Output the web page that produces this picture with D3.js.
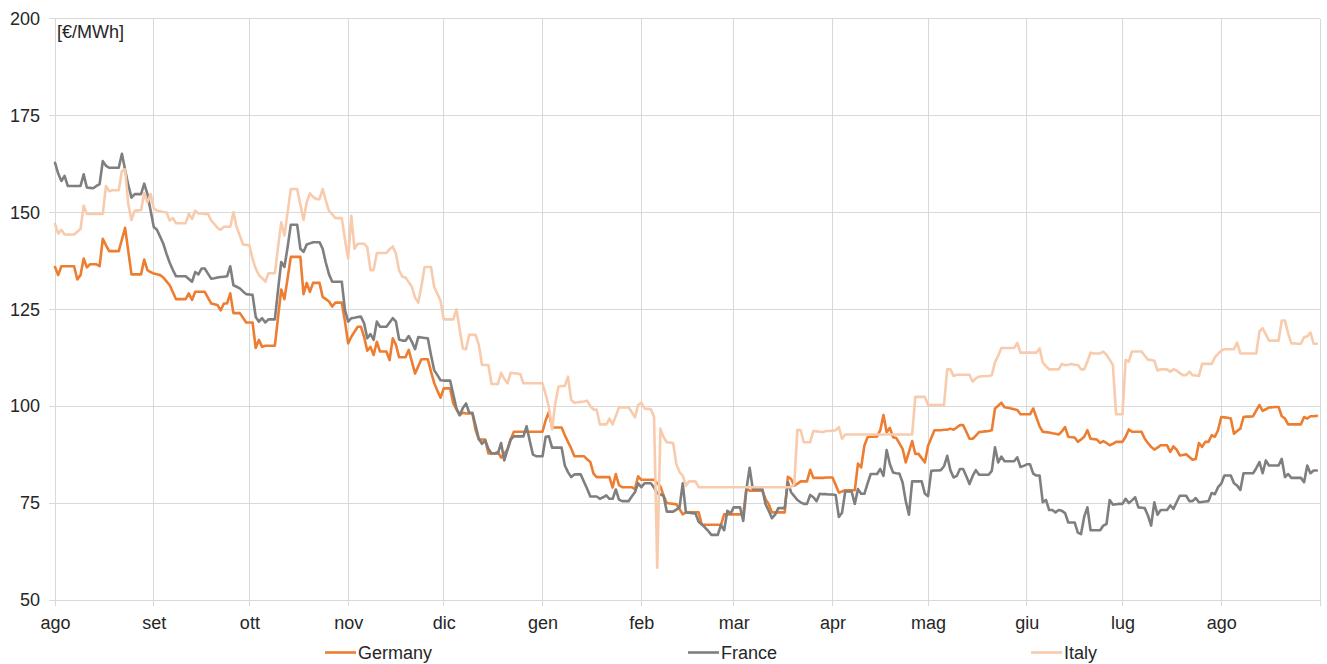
<!DOCTYPE html>
<html>
<head>
<meta charset="utf-8">
<script src="https://cdn.jsdelivr.net/npm/d3@7"></script>
<style>
  html, body { margin: 0; padding: 0; background: #ffffff; }
  svg { display: block; }
  text { font-family: "Liberation Sans", Arial, sans-serif; }
</style>
</head>
<body>
<svg id="chart" width="1327" height="664"></svg>
<script>
// Daily prices, one value per calendar day starting on the first day below
const firstDay = "2023-08-01";
const axisEnd = "2024-09-01";

const seriesNames = ["Germany", "France", "Italy"];
const seriesColors = ["#ED7D31", "#7F7F7F", "#F8CBAD"];

const germany = [
135.9,133.8,136.1,136.1,136.1,136.1,136.1,132.7,133.8,138.1,
135.8,136.6,136.6,136.6,136.1,143.2,141.5,140.0,140.0,140.0,
140.0,143.0,146.0,140.0,134.0,134.0,134.0,134.0,137.8,135.1,
134.6,134.2,134.0,133.8,133.2,132.2,131.2,129.4,127.6,127.6,
127.6,127.6,129.1,127.4,129.5,129.5,129.5,129.5,128.0,126.5,
126.3,126.1,124.7,126.5,126.5,129.1,124.0,124.0,124.0,122.8,
121.6,121.6,121.6,115.0,117.1,115.3,115.6,115.6,115.6,115.6,
122.9,130.1,127.6,133.0,138.5,138.5,138.5,138.5,128.9,131.8,
129.5,131.8,131.8,131.8,128.2,127.6,127.0,125.7,126.7,126.7,
126.7,121.8,116.2,117.9,119.2,120.5,120.5,117.9,114.3,115.3,
113.2,116.6,114.1,114.1,114.1,111.9,117.5,115.8,112.6,112.6,
112.6,114.5,111.5,108.4,110.3,112.1,112.1,112.1,108.9,106.0,
104.0,102.2,104.6,104.6,104.6,100.7,99.2,97.7,98.3,98.1,
98.1,98.1,93.8,91.4,91.4,91.4,87.8,87.8,87.8,88.2,
86.7,87.8,88.8,91.4,93.4,93.4,93.4,93.4,93.4,93.4,
93.4,93.4,93.4,93.4,96.4,98.5,94.5,94.5,94.5,94.5,
92.5,90.8,89.1,87.1,87.1,87.1,87.1,86.3,85.6,82.6,
81.7,81.7,81.7,81.7,81.7,79.0,82.5,79.6,79.1,79.1,
79.1,79.1,78.6,81.9,81.0,81.0,81.0,81.0,81.0,80.1,
79.3,76.9,75.0,74.9,74.8,74.7,73.5,72.1,72.6,72.6,
72.6,72.6,72.6,69.4,69.4,69.4,69.4,69.4,69.4,69.4,
72.1,72.1,72.1,72.1,72.1,72.1,72.1,78.9,78.2,78.2,
78.2,78.2,78.2,76.0,74.7,72.6,72.6,72.6,72.6,72.6,
81.8,81.2,79.5,80.0,80.6,80.6,80.6,83.6,81.5,81.5,
81.5,81.5,81.6,81.6,81.6,79.7,77.7,78.0,78.3,78.3,
78.3,78.3,85.2,84.2,89.8,92.0,92.1,92.1,92.2,93.8,
97.7,93.3,94.4,92.0,91.8,90.4,89.0,85.5,88.2,91.0,
87.7,87.7,86.6,85.5,89.8,91.8,93.8,93.8,93.8,93.9,
93.9,94.2,93.9,94.5,95.1,95.1,93.4,91.6,91.6,92.4,
93.3,93.4,93.5,93.6,93.8,99.4,100.1,100.9,99.7,99.6,
99.4,99.2,99.0,97.9,97.9,97.9,97.9,99.4,97.1,94.8,
93.4,93.3,93.2,93.0,92.9,92.7,93.5,94.6,92.1,92.0,
91.9,90.8,91.4,92.1,93.8,91.6,91.5,91.4,90.5,91.0,
90.5,89.9,90.3,90.8,90.8,90.8,92.1,94.0,93.4,93.4,
93.4,93.4,91.6,90.5,89.5,88.8,89.3,89.9,89.9,89.9,
88.2,89.6,88.8,87.3,87.4,87.6,86.9,86.2,86.4,90.5,
89.5,90.8,90.8,92.5,92.1,93.8,97.2,97.1,97.0,96.8,
92.9,93.6,94.2,97.2,97.3,97.3,97.4,98.9,100.3,98.8,
99.2,99.7,99.7,99.8,99.8,97.4,96.8,95.3,95.3,95.3,
95.3,95.3,97.2,96.8,97.4,97.4,97.5
];

const france = [
162.8,160.0,158.1,159.4,156.8,156.8,156.8,156.8,156.8,159.8,
156.4,156.3,156.2,156.8,157.3,163.2,162.0,161.5,161.5,161.5,
161.5,165.1,161.0,157.0,153.8,154.7,154.7,154.7,157.4,154.7,
150.5,146.2,145.5,143.7,141.9,139.3,137.0,135.1,133.5,133.5,
133.5,133.5,132.8,132.1,134.6,134.0,135.5,135.5,134.2,132.9,
133.0,133.2,133.3,133.4,133.5,136.1,131.2,130.8,130.4,129.6,
128.9,128.8,128.7,123.0,121.8,122.7,121.6,122.4,122.4,122.4,
130.0,137.2,135.9,141.0,146.8,146.8,146.8,140.6,139.8,141.7,
142.0,142.3,142.3,142.3,140.6,137.0,134.0,132.1,132.1,132.1,
132.1,124.8,121.8,122.7,122.8,123.0,123.1,121.4,117.5,118.6,
117.1,121.8,120.5,120.5,120.5,121.6,122.7,121.8,117.2,116.9,
116.9,118.1,116.6,114.7,117.8,117.7,117.6,117.5,113.2,109.3,
108.0,106.7,106.6,106.6,106.6,103.0,99.4,97.7,99.5,100.7,
98.3,98.3,95.0,91.6,90.3,91.2,89.0,87.8,87.8,87.8,
90.5,86.0,88.8,91.4,92.2,92.2,92.2,92.2,94.8,91.0,
87.5,87.1,87.1,87.1,92.1,92.2,89.3,89.3,89.3,89.3,
84.7,83.0,81.7,82.4,82.4,82.4,80.5,78.7,76.7,76.7,
76.7,76.1,76.5,77.0,76.1,76.1,78.5,75.9,75.5,75.5,
75.5,76.7,77.8,80.1,79.1,80.1,80.1,80.1,79.0,77.5,
77.2,76.9,72.8,72.8,72.8,73.3,73.9,80.1,72.6,72.5,
72.4,72.3,70.2,69.5,68.7,67.8,66.8,66.8,66.8,69.4,
68.0,73.0,72.3,73.9,73.9,73.9,70.4,78.6,84.1,78.6,
78.6,78.6,78.6,74.7,73.0,71.1,72.0,73.7,73.7,73.7,
80.4,77.8,76.8,75.8,75.2,74.8,74.8,77.1,76.5,75.5,
77.4,77.3,77.3,77.2,77.2,77.1,71.4,72.5,78.0,78.0,
78.0,74.8,78.6,77.4,77.4,80.0,82.5,82.5,82.5,83.8,
82.0,88.7,85.1,82.9,82.7,82.6,80.3,75.5,72.0,80.6,
80.6,80.6,80.6,77.4,76.8,83.3,83.4,83.4,83.5,84.5,
87.2,83.5,81.6,82.0,83.8,83.8,81.9,79.9,82.0,83.5,
82.3,82.3,82.3,82.3,83.3,89.4,85.5,87.0,85.8,85.8,
85.8,85.8,86.8,84.3,84.6,85.0,85.0,82.6,82.1,82.1,
75.2,75.8,73.2,73.2,72.6,73.2,73.0,72.4,70.0,70.0,
70.0,67.4,67.0,71.5,73.9,68.0,68.0,68.0,68.0,69.2,
69.6,75.8,74.6,74.7,74.8,74.8,76.1,75.0,75.7,76.5,
73.9,73.8,73.7,71.8,69.2,75.2,72.0,73.2,73.2,73.2,
74.4,73.5,75.2,76.9,76.9,76.9,75.5,75.5,76.3,75.2,
75.3,75.4,75.5,77.6,77.3,79.1,80.0,82.1,82.1,82.1,
80.1,79.5,78.4,82.7,82.7,82.7,82.7,84.0,85.6,82.7,
86.0,84.7,84.7,84.7,84.7,86.4,81.7,82.5,81.5,81.5,
81.5,81.5,80.4,84.7,82.7,83.4,83.4
];

const italy = [
147.0,144.5,145.5,144.3,144.3,144.3,144.3,145.0,145.7,151.7,
149.6,149.6,149.6,149.6,149.6,149.6,156.8,155.4,155.7,155.7,
155.7,160.7,161.1,152.0,148.0,150.4,150.5,150.6,154.9,152.6,
154.7,151.1,150.4,150.3,150.1,150.0,147.9,148.5,147.2,147.2,
147.2,147.2,149.6,148.3,150.4,149.7,149.7,149.6,149.6,147.9,
147.0,146.0,145.5,146.3,146.3,146.3,150.0,146.2,144.0,141.7,
141.6,141.5,138.0,135.5,133.8,133.0,132.1,134.3,134.3,134.3,
141.0,147.4,144.0,150.0,156.0,156.0,156.0,152.0,148.0,152.6,
154.9,154.0,153.4,153.4,156.0,153.0,150.4,149.5,148.5,148.5,
148.5,143.0,138.1,149.1,140.6,141.9,141.9,141.9,141.0,135.1,
135.1,139.5,139.5,139.5,139.5,140.5,141.2,139.3,135.0,133.4,
133.2,132.0,130.8,128.0,126.7,131.0,135.9,135.9,135.9,130.8,
129.0,127.2,122.4,122.4,122.4,122.4,125.0,119.7,114.9,114.7,
118.4,118.4,118.4,115.8,110.6,110.6,110.6,105.7,105.7,105.7,
108.6,107.0,105.9,108.6,108.5,108.4,108.3,105.9,105.9,105.9,
105.9,105.9,105.9,105.9,103.0,99.8,94.0,100.7,105.0,105.2,
105.2,107.6,101.6,100.9,101.0,101.1,101.2,101.4,100.0,99.1,
99.1,95.3,95.3,95.3,96.8,95.3,97.5,99.7,99.7,99.7,
99.7,98.5,97.1,100.3,100.9,99.4,99.3,99.2,97.2,58.3,
94.2,92.0,90.7,90.6,90.5,85.0,83.0,82.1,79.5,80.6,
80.6,80.6,79.1,79.1,79.1,79.1,79.1,79.1,79.1,79.1,
79.1,79.1,79.1,79.1,79.1,79.1,79.1,79.1,79.1,79.1,
79.1,79.1,79.1,79.1,79.1,79.1,79.1,79.1,79.1,79.1,
79.1,79.1,79.9,93.9,93.8,90.7,90.7,90.7,93.6,93.5,
93.4,93.3,93.6,93.6,93.7,93.8,94.6,91.6,92.7,92.7,
92.7,92.7,92.7,92.7,92.7,92.7,92.7,92.7,92.7,92.7,
92.7,92.7,92.7,92.7,92.7,92.7,92.7,92.7,92.7,92.7,
102.4,102.4,102.4,102.4,100.3,100.3,100.3,100.3,100.3,100.3,
109.5,109.5,107.8,108.1,108.1,108.1,108.1,108.1,106.3,107.2,
107.6,107.7,107.7,107.8,108.0,111.3,113.0,115.0,115.0,115.0,
115.0,115.0,116.3,113.8,113.8,113.8,113.8,113.8,113.8,114.9,
111.2,110.3,109.5,109.5,109.5,109.5,110.9,110.6,110.7,110.9,
110.7,110.6,109.5,109.5,111.5,113.8,113.6,113.6,113.6,114.1,
113.2,112.0,110.6,97.9,97.9,97.9,111.9,111.5,114.1,114.1,
114.1,114.1,113.0,112.0,111.9,111.7,109.2,109.5,109.5,109.5,
108.9,109.5,109.2,108.5,108.0,108.0,108.9,108.0,107.9,107.8,
110.9,110.9,110.9,110.9,112.6,113.5,114.3,114.7,114.7,114.7,
114.7,116.4,113.6,113.6,113.6,113.6,113.6,113.6,119.3,120.1,
118.5,116.9,116.9,116.9,116.9,122.1,122.1,118.8,116.2,116.2,
116.1,116.1,117.8,118.0,119.0,116.1,116.1
];

const monthLabels = ["ago","set","ott","nov","dic","gen","feb","mar","apr","mag","giu","lug","ago"];
const yTicks = [50, 75, 100, 125, 150, 175, 200];
const unitLabel = "[€/MWh]";

// ---- layout
const W = 1327, H = 664;
const plot = { left: 55, right: 1320, top: 18.5, bottom: 600 };
const gridColor = "#D9D9D9";
const textColor = "#262626";
const fontSize = 18;

const svg = d3.select("#chart");
svg.append("rect").attr("width", W).attr("height", H).attr("fill", "#ffffff");

const parse = d3.utcParse("%Y-%m-%d");
const start = parse(firstDay);
const end = parse(axisEnd);

const x = d3.scaleUtc().domain([start, end]).range([plot.left, plot.right]);
const y = d3.scaleLinear().domain([50, 200]).range([plot.bottom, plot.top]);

const monthStarts = d3.utcMonth.range(start, d3.utcDay.offset(end, 1));

// horizontal gridlines (with short outward ticks)
svg.append("g")
  .selectAll("line")
  .data(yTicks)
  .join("line")
  .attr("x1", plot.left - 6).attr("x2", plot.right)
  .attr("y1", d => y(d)).attr("y2", d => y(d))
  .attr("stroke", gridColor).attr("stroke-width", 1)
  .attr("shape-rendering", "crispEdges");

// vertical gridlines at month starts
svg.append("g")
  .selectAll("line")
  .data(monthStarts)
  .join("line")
  .attr("x1", d => x(d)).attr("x2", d => x(d))
  .attr("y1", plot.top).attr("y2", plot.bottom + 6)
  .attr("stroke", gridColor).attr("stroke-width", 1)
  .attr("shape-rendering", "crispEdges");

// y axis labels
const yAxis = d3.axisLeft(y).tickValues(yTicks).tickSize(6).tickPadding(9).tickFormat(d3.format("d"));
const gy = svg.append("g").attr("transform", `translate(${plot.left},0)`).call(yAxis);
gy.select(".domain").remove();
gy.selectAll(".tick line").remove();
gy.selectAll("text")
  .attr("font-family", "'Liberation Sans', Arial, sans-serif")
  .attr("font-size", fontSize).attr("fill", textColor);

// x axis labels (month abbreviations)
const labelled = monthStarts.slice(0, monthLabels.length);
const xAxis = d3.axisBottom(x).tickValues(labelled).tickSize(6).tickPadding(10)
  .tickFormat((d, i) => monthLabels[i]);
const gx = svg.append("g").attr("transform", `translate(0,${plot.bottom})`).call(xAxis);
gx.select(".domain").remove();
gx.selectAll(".tick line").remove();
gx.selectAll("text")
  .attr("font-family", "'Liberation Sans', Arial, sans-serif")
  .attr("font-size", fontSize).attr("fill", textColor);

// unit label
svg.append("text")
  .attr("x", 57).attr("y", 38)
  .attr("font-size", fontSize).attr("fill", textColor)
  .text(unitLabel);

// series lines
const allSeries = [germany, france, italy].map((vals, i) => ({
  name: seriesNames[i],
  color: seriesColors[i],
  points: vals.map((v, k) => ({ date: d3.utcDay.offset(start, k), value: v }))
}));

const line = d3.line()
  .x(d => x(d.date))
  .y(d => y(d.value));

svg.append("g")
  .selectAll("path")
  .data(allSeries)
  .join("path")
  .attr("d", s => line(s.points))
  .attr("fill", "none")
  .attr("stroke", s => s.color)
  .attr("stroke-width", 2.6)
  .attr("stroke-linejoin", "round")
  .attr("stroke-linecap", "round");

// legend
const legendX = [325, 688, 1031];
const legendY = 652.5;
const lg = svg.append("g").selectAll("g").data(allSeries).join("g")
  .attr("transform", (s, i) => `translate(${legendX[i]},${legendY})`);
lg.append("line")
  .attr("x1", 0).attr("x2", 31).attr("y1", 0).attr("y2", 0)
  .attr("stroke", s => s.color).attr("stroke-width", 2.6);
lg.append("text")
  .attr("x", 33).attr("y", 0).attr("dy", "0.35em")
  .attr("font-size", fontSize).attr("fill", textColor)
  .text(s => s.name);
</script>
</body>
</html>
